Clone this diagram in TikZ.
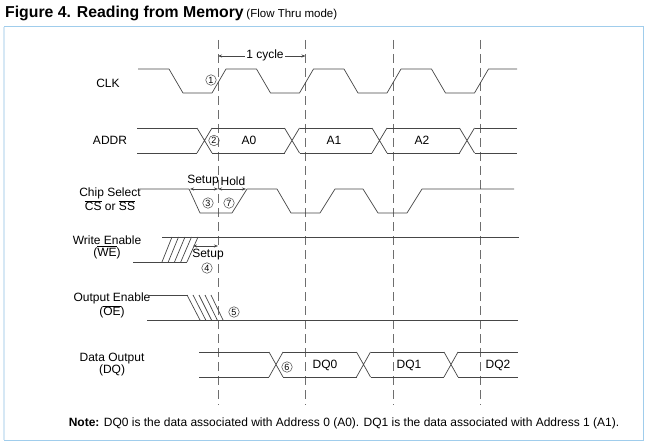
\documentclass[tikz,border=0pt]{standalone}
\usepackage{fontspec}
\setmainfont{Liberation Sans}
\usetikzlibrary{arrows.meta}
\definecolor{bordercol}{RGB}{160,205,236}
\definecolor{borderleft}{RGB}{214,232,245}
\definecolor{sigcol}{RGB}{70,70,70}
\definecolor{dashcol}{RGB}{110,110,110}
\tikzset{
  sig/.style={draw=sigcol, line width=0.7pt, line join=round},
  grid/.style={draw=dashcol, line width=0.7pt, dash pattern=on 9pt off 5pt},
  lbl/.style={font=\fontsize{12}{12}\selectfont, align=center, inner sep=0pt},
  num/.style={circle, draw=sigcol, line width=0.5pt, minimum size=10.5pt, inner sep=0pt, font=\fontsize{9}{9}\selectfont},
  dim/.style={draw=sigcol, line width=0.6pt, {Stealth[length=4pt,width=3pt]}-{Stealth[length=4pt,width=3pt]}},
  small/.style={font=\fontsize{12}{12}\selectfont, inner sep=0pt},
}
\newcommand{\ovl}[1]{\ensuremath{\overline{\hbox{#1}}}}
\begin{document}
\begin{tikzpicture}[x=1pt,y=-1pt]
\useasboundingbox (0,0) rectangle (649,444);
% border
\draw[bordercol, line width=1pt] (4,27) rectangle (643,440);
\draw[borderleft, line width=2.5pt] (4,27) -- (4,440);
% title
\node[anchor=west, inner sep=0pt] (title) at (5,13)
  {{\bfseries\fontsize{15.8}{16}\selectfont Figure 4. Reading from Memory} {\fontsize{11.5}{11.5}\selectfont (Flow Thru mode)}};
% dashed verticals
\foreach \x [count=\i] in {218,305.5,393,480.5} {
  \coordinate (g\i t) at (\x,40);
  \coordinate (g\i b) at (\x,405);
  \draw[grid] (g\i t) -- (g\i b);
}
% 1 cycle
\coordinate (cyA) at (218,56);
\coordinate (cyB) at (305.5,56);
\draw[dim] (cyA) -- (cyB);
\node[small, fill=white, inner xsep=1pt, inner ysep=1pt] (cyc) at (265,55) {1 cycle};
% labels
\node[lbl] (lclk) at (108,83) {CLK};
\node[lbl] (laddr) at (110,140.5) {ADDR};
\node[lbl] (lcs) at (110,199.5) {Chip Select\\\ovl{CS} or \ovl{SS}};
\node[lbl] (lwe) at (107,247) {Write Enable\\(\ovl{WE})};
\node[lbl] (loe) at (112,305.5) {Output Enable\\(\ovl{OE})};
\node[lbl] (ldq) at (112,365) {Data Output\\(DQ)};
% CLK
\draw[sig] (138,69) -- (169,69) -- (183,93) -- (212,93) -- (226,69) -- (256.5,69) -- (270.5,93)
  -- (299.5,93) -- (313.5,69) -- (344,69) -- (358,93) -- (387,93) -- (401,69) -- (431.5,69)
  -- (445.5,93) -- (474.5,93) -- (488.5,69) -- (517,69);
% ADDR
\draw[sig] (137,128) -- (197,128) (137,153) -- (197,153);
\foreach \c in {204.5,292,379.5,467} {
  \draw[sig] (\c-7.5,128) -- (\c+7.5,153) (\c-7.5,153) -- (\c+7.5,128);
}
\draw[sig] (212,128) -- (284.5,128) (212,153) -- (284.5,153);
\draw[sig] (299.5,128) -- (372,128) (299.5,153) -- (372,153);
\draw[sig] (387,128) -- (459.5,128) (387,153) -- (459.5,153);
\draw[sig] (474.5,128) -- (517,128) (474.5,153) -- (517,153);
\node[lbl] (a0) at (249,140.5) {A0};
\node[lbl] (a1) at (334,140.5) {A1};
\node[lbl] (a2) at (422,140.5) {A2};
% CS
\draw[sig] (140,189) -- (189,189) -- (200,213) -- (232,213) -- (247,189) -- (277,189) -- (291,213)
  -- (320,213) -- (335,189) -- (363,189) -- (378,213) -- (407,213) -- (422,189) -- (514,189);
\coordinate (suA) at (190,189);
\coordinate (suB) at (218,189);
\coordinate (hoB) at (246,189);
\draw[dim] (suA) -- (suB);
\draw[dim] (suB) -- (hoB);
\node[small] (lsetup) at (203,181) {Setup};
\node[small] (lhold) at (233,181) {Hold};
% WE
\draw[sig] (162,237) -- (519,237);
\draw[sig] (133,262) -- (187,262);
\foreach \i in {0,...,4} {
  \draw[sig] (162+6.25*\i,262) -- (172+6.5*\i,237);
}
\coordinate (weA) at (193,246);
\coordinate (weB) at (218,246);
\draw[dim] (weA) -- (weB);
\node[small] (lsetup2) at (208,254.5) {Setup};
% OE
\draw[sig] (148,295) -- (188,295);
\draw[sig] (147,320) -- (518,320);
\foreach \i in {0,...,4} {
  \draw[sig] (187+6*\i,295) -- (200+5.75*\i,320);
}
% DQ
\draw[sig] (199,352) -- (269,352) (199,377) -- (269,377);
\foreach \c in {276,363.5,451} {
  \draw[sig] (\c-7,352) -- (\c+7,377) (\c-7,377) -- (\c+7,352);
}
\draw[sig] (283,352) -- (356.5,352) (283,377) -- (356.5,377);
\draw[sig] (370.5,352) -- (444,352) (370.5,377) -- (444,377);
\draw[sig] (458,352) -- (518,352) (458,377) -- (518,377);
\node[lbl] (dq0) at (325,365) {DQ0};
\node[lbl] (dq1) at (409,365) {DQ1};
\node[lbl] (dq2) at (498,365) {DQ2};
% circled numbers
\node[num] (n1) at (211,80) {1};
\node[num] (n2) at (214,140.5) {2};
\node[num] (n3) at (208,203) {3};
\node[num] (n7) at (229,203) {7};
\node[num] (n4) at (207,268) {4};
\node[num] (n5) at (234,312) {5};
\node[num] (n6) at (287,367) {6};
% note
\node[inner sep=0pt, font=\fontsize{12}{12}\selectfont] (note) at (344,423)
  {\textbf{Note:} DQ0 is the data associated with Address 0 (A0). DQ1 is the data associated with Address 1 (A1).};
\end{tikzpicture}
\end{document}
